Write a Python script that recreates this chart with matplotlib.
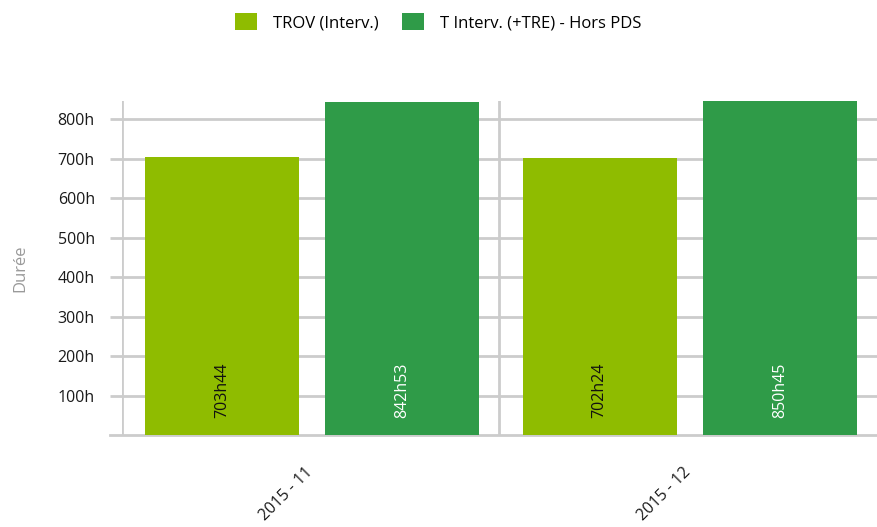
import matplotlib.pyplot as plt
import numpy as np

plt.rcParams['font.family'] = ['Open Sans', 'DejaVu Sans']

months = ["2015 - 11", "2015 - 12"]
series_names = ["TROV (Interv.)", "T Interv. (+TRE) - Hors PDS"]
trov = [703 + 44 / 60, 702 + 24 / 60]
t_interv = [842 + 53 / 60, 850 + 45 / 60]
trov_labels = ["703h44", "702h24"]
t_interv_labels = ["842h53", "850h45"]
y_ticks = [100, 200, 300, 400, 500, 600, 700, 800]

lime = "#8fbc00"
green = "#2f9b48"
grid = "#cccccc"

fig = plt.figure(figsize=(8.77, 5.27), dpi=100)
ax = fig.add_axes([0.1391, 0.1738, 0.8609, 0.6345])

x = np.arange(len(months))
w = 0.408
b1 = ax.bar(x - 0.235, trov, w, color=lime, zorder=3, label=series_names[0])
b2 = ax.bar(x + 0.243, t_interv, w, color=green, zorder=3, label=series_names[1])

# value labels, rotated, near the bottom of each bar
for rect, lab in zip(b1, trov_labels):
    ax.text(rect.get_x() + rect.get_width() / 2, 113, lab, rotation=90,
            ha="center", va="center", fontsize=11.5, color="#111111", zorder=4)
for rect, lab in zip(b2, t_interv_labels):
    ax.text(rect.get_x() + rect.get_width() / 2, 113, lab, rotation=90,
            ha="center", va="center", fontsize=11.5, color="white", zorder=4)

ax.set_xlim(-0.5, 1.5)
ax.set_ylim(0, 846)
ax.set_yticks(y_ticks)
ax.set_yticklabels([f"{v}h" for v in y_ticks])
ax.set_xticks(x)
ax.set_xticklabels(months, rotation=45, ha="right", va="center", rotation_mode="anchor",
                   fontsize=11.5, color="#1a1a1a")

for v in y_ticks:
    ax.axhline(v, color=grid, lw=2, zorder=1)
for xv in [-0.5, 0.5]:
    ax.axvline(xv, color=grid, lw=2, zorder=1)
# baseline, running out to the left like the tick marks
ax.plot([-0.0159, 1], [0, 0], transform=ax.transAxes, color=grid, lw=2,
        clip_on=False, zorder=2)

for s in ax.spines.values():
    s.set_visible(False)
ax.tick_params(axis="y", length=8.6, width=2, color=grid, labelsize=11.5,
               labelcolor="#1a1a1a", pad=11)
ax.tick_params(axis="x", length=0, pad=25)

ax.set_ylabel("Durée", color="#999999", fontsize=12, labelpad=21)

fig.legend(handles=[b1, b2], loc="center", bbox_to_anchor=(0.4994, 1 - 22 / 527),
           ncol=2, frameon=False, fontsize=12, handlelength=1.32, handleheight=1.2,
           columnspacing=1.4, handletextpad=0.95)

fig.savefig("out.png", dpi=100)
